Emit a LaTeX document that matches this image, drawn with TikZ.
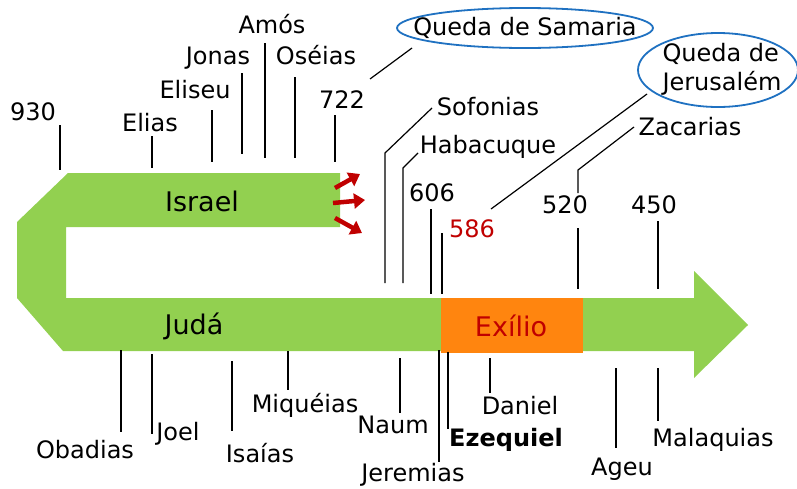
\documentclass[tikz,border=0pt]{standalone}
\usepackage{fontspec}
\setmainfont{DejaVu Sans}
\usetikzlibrary{arrows.meta}
\definecolor{verde}{RGB}{146,208,80}
\definecolor{laranja}{RGB}{255,133,15}
\definecolor{vermelho}{RGB}{192,0,0}
\definecolor{azul}{RGB}{31,113,193}
\begin{document}
\begin{tikzpicture}[x=1pt,y=-1pt,
   rotulo/.style={font=\fontsize{24}{28}\selectfont,text height=17.5pt,text depth=0pt,inner sep=0pt},
   faixa/.style={font=\fontsize{27}{32}\selectfont,text height=19.7pt,text depth=0pt,inner sep=0pt},
   traco/.style={line width=1.2pt},
   queda/.style={inner sep=0pt,font=\fontsize{24}{29}\selectfont},
   elipse/.style={draw=azul,line width=1.8pt},
   seta/.style={vermelho,line width=4.5pt,-{Triangle[length=11pt,width=15pt]}}]
   \useasboundingbox (0,0) rectangle (797,488);
   % faixas
   \fill[verde] (68,173) -- (340,173) -- (340,227) -- (66,227) -- (66,298) -- (694,298)
      -- (694,271) -- (748,325) -- (694,378) -- (694,351) -- (63,351) -- (17,298)
      -- (17,222) -- cycle;
   \fill[laranja] (441,298) rectangle (583,353);
   \node[faixa] (israel) at (202,202) {Israel};
   \node[faixa] (juda) at (194,325) {Judá};
   \node[faixa,text=vermelho] (exilio) at (511,327) {Exílio};
   % setas
   \draw[seta] (335,188) coordinate (s1a) -- (360,174) coordinate (s1b);
   \draw[seta] (333,203) coordinate (s2a) -- (365,200) coordinate (s2b);
   \draw[seta] (335,218) coordinate (s3a) -- (362,233) coordinate (s3b);
   % tracos
   \foreach \n/\x/\a/\b in {930/60/125/170, elias/152/136/168, eliseu/212/110/162,
      jonas/242/73/154, amos/265/43/158, oseias/295/77/158, 722/335/115/162,
      606/431/209/294, 586/442/233/294, 450/658/221/289, 520/578/228/289,
      obadias/121/350/432, joel/152/354/434, isaias/232/361/431, miqueias/288/351/390,
      naum/400/358/413, jeremias/439/350/462, ezequiel/448/352/429, daniel/490/358/393,
      ageu/616/368/448, malaquias/658/368/421}
      \draw[traco] (\x,\a) coordinate (\n a) -- (\x,\b) coordinate (\n b);
   \draw[traco] (432,108) coordinate (sofoniasa) -- (385,153) -- (385,283) coordinate (sofoniasb);
   \draw[traco] (418,153) coordinate (habacuquea) -- (403,168) -- (403,283) coordinate (habacuqueb);
   \draw[traco] (634,127) coordinate (zacariasa) -- (578,170) -- (578,193) coordinate (zacariasb);
   \draw[traco] (370,79) coordinate (samariaa) -- (412,48) coordinate (samariab);
   \draw[traco] (491,209) coordinate (jerusalema) -- (647,94) coordinate (jerusalemb);
   % rotulos
   \foreach \n/\x/\y/\t in {t930/33/112/930, telias/150/123/Elias, teliseu/195/90/Eliseu,
      tjonas/218/56/Jonas, tamos/272/25/Amós, toseias/316/56/Oséias, t722/342/100/722,
      tsofonias/488/107/Sofonias, thabacuque/488/145/Habacuque, t606/432/193/606,
      t520/565/205/520, t450/654/205/450, tzacarias/690/127/Zacarias,
      tobadias/85/450/Obadias, tjoel/178/432/Joel, tisaias/260/454/Isaías,
      tmiqueias/305/404/Miquéias, tnaum/393/425/Naum, tjeremias/413/473/Jeremias,
      tdaniel/520/406/Daniel, tageu/622/467/Ageu, tmalaquias/713/438/Malaquias}
      \node[rotulo] (\n) at (\x,\y) {\t};
   \node[rotulo,text=vermelho] (t586) at (472,229) {586};
   \node[rotulo,font=\fontsize{24}{28}\selectfont\bfseries] (tezequiel) at (506,438) {Ezequiel};
   % quedas
   \node[queda] (samaria) at (525,28) {Queda de Samaria};
   \draw[elipse] (samaria.center) ellipse [x radius=128, y radius=20];
   \node[queda,align=left] (jerusalem) at (722,69) {Queda de\\Jerusalém};
   \draw[elipse] (718,70) ellipse [x radius=80, y radius=37];
\end{tikzpicture}
\end{document}
